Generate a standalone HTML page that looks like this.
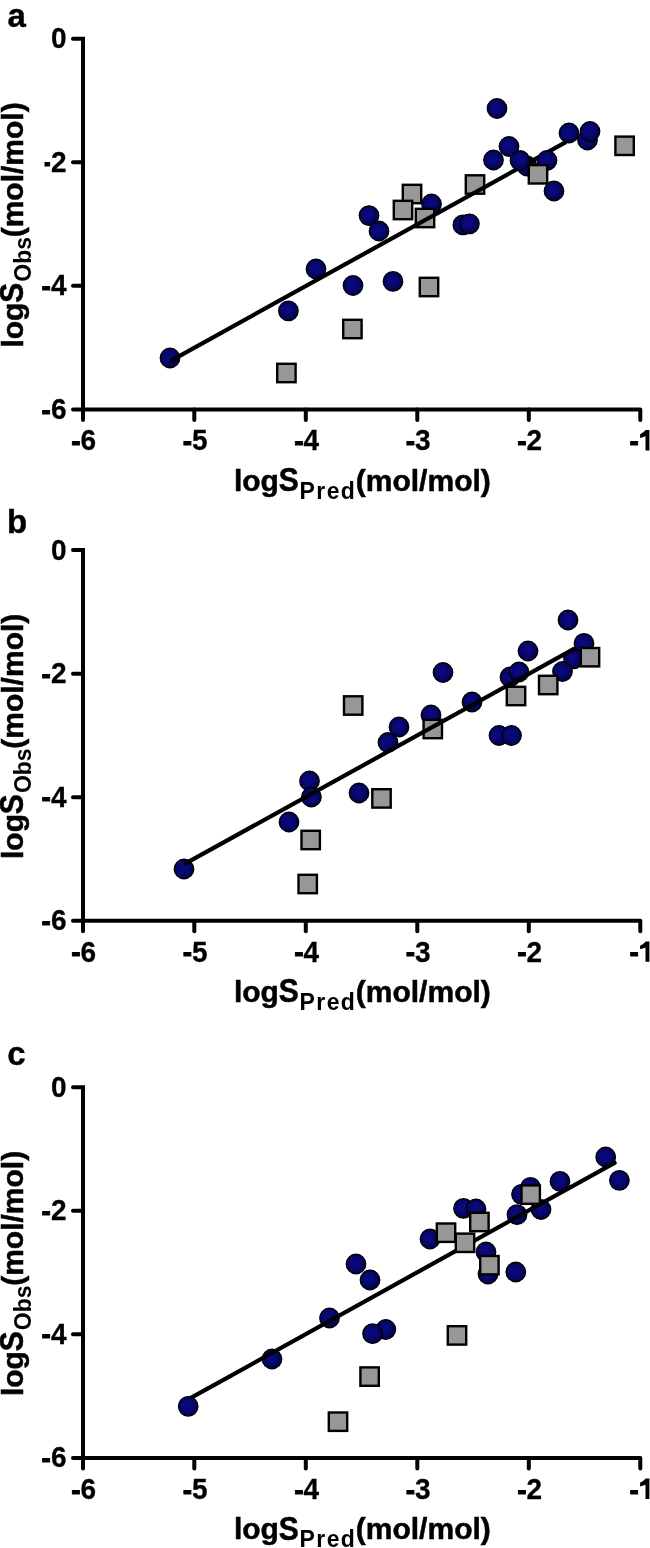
<!DOCTYPE html>
<html><head><meta charset="utf-8"><style>
html,body{margin:0;padding:0;background:#fff;}
svg{display:block;will-change:transform;}
text{font-family:"Liberation Sans",sans-serif;font-weight:bold;fill:#000;}
.tk{font-size:28px;stroke:#000;stroke-width:0.3px;}
.hy{stroke:#000;stroke-width:0.9px;}
.ti{font-size:30px;stroke:#000;stroke-width:0.5px;}
.sub{font-size:23px;}
.sub2{font-size:22.5px;}
.pl{font-size:33px;stroke:#000;stroke-width:0.4px;}
.ax{stroke:#000;stroke-width:4;fill:none;stroke-linecap:round;stroke-linejoin:round;}
.rl{stroke:#000;stroke-width:4.2;stroke-linecap:round;}
.c{fill:url(#cg);stroke:#000;stroke-width:1.3;}
.s{fill:#979797;stroke:#000;stroke-width:2.4;}
</style></head><body>
<svg width="650" height="1548" viewBox="0 0 650 1548">
<defs><radialGradient id="cg" cx="0.45" cy="0.45" r="0.6"><stop offset="0" stop-color="#0a0a80"/><stop offset="0.5" stop-color="#070770"/><stop offset="0.85" stop-color="#03034e"/><stop offset="1" stop-color="#010128"/></radialGradient></defs>
<g transform="translate(0,0.0)">
<path d="M73,38.7 L83,38.7 L83,419.88" class="ax" style="stroke-linejoin:miter"/>
<path d="M83,409.38 L640.3,409.38 L640.3,419.88" class="ax"/>
<line x1="73" y1="162.26" x2="83" y2="162.26" class="ax"/>
<line x1="73" y1="285.82" x2="83" y2="285.82" class="ax"/>
<line x1="73" y1="409.38" x2="83" y2="409.38" class="ax"/>
<line x1="194.3" y1="409.38" x2="194.3" y2="419.88" class="ax"/>
<line x1="305.8" y1="409.38" x2="305.8" y2="419.88" class="ax"/>
<line x1="417.3" y1="409.38" x2="417.3" y2="419.88" class="ax"/>
<line x1="528.8" y1="409.38" x2="528.8" y2="419.88" class="ax"/>
<text transform="translate(66.5,48.2) scale(1,1.065)" class="tk" text-anchor="end">0</text>
<text transform="translate(66.5,171.8) scale(1,1.065)" class="tk" text-anchor="end"><tspan dy="0.6" class="hy">-</tspan><tspan dy="-0.6">2</tspan></text>
<text transform="translate(66.5,295.3) scale(1,1.065)" class="tk" text-anchor="end"><tspan dy="0.6" class="hy">-</tspan><tspan dy="-0.6">4</tspan></text>
<text transform="translate(66.5,418.9) scale(1,1.065)" class="tk" text-anchor="end"><tspan dy="0.6" class="hy">-</tspan><tspan dy="-0.6">6</tspan></text>
<text transform="translate(83.6,450.4) scale(1,1.065)" class="tk" text-anchor="middle"><tspan dy="0.6" class="hy">-</tspan><tspan dy="-0.6">6</tspan></text>
<text transform="translate(195.1,450.4) scale(1,1.065)" class="tk" text-anchor="middle"><tspan dy="0.6" class="hy">-</tspan><tspan dy="-0.6">5</tspan></text>
<text transform="translate(306.6,450.4) scale(1,1.065)" class="tk" text-anchor="middle"><tspan dy="0.6" class="hy">-</tspan><tspan dy="-0.6">4</tspan></text>
<text transform="translate(418.1,450.4) scale(1,1.065)" class="tk" text-anchor="middle"><tspan dy="0.6" class="hy">-</tspan><tspan dy="-0.6">3</tspan></text>
<text transform="translate(529.6,450.4) scale(1,1.065)" class="tk" text-anchor="middle"><tspan dy="0.6" class="hy">-</tspan><tspan dy="-0.6">2</tspan></text>
<text transform="translate(629.55,450.4) scale(1,1.065)" class="tk"><tspan dy="0.6" class="hy">-</tspan></text>
<path d="M645.7,430.08 L649.4,430.08 L649.4,450.38 L645.5,450.38 L645.5,436.18 Q642.6,437.18 640.1,437.88 L640.1,434.28 Q643.6,432.58 645.7,430.08 Z" fill="#000"/>
<g transform="translate(233.9,490.7)"><text x="0" y="0" class="ti">log</text><text transform="translate(44.80,0.30) scale(1,1.11)" class="ti">S</text><text transform="translate(65.70,7.80) scale(1,1.03)" class="sub" letter-spacing="1.4">Pred</text><text x="121.90" y="0" class="ti">(mol/mol)</text></g>
<g transform="translate(23.0,347.6) rotate(-90)"><text x="0" y="0" class="ti">log</text><text transform="translate(44.80,0.30) scale(1,1.11)" class="ti">S</text><text transform="translate(65.90,7.80) scale(1,1.03)" class="sub" letter-spacing="0.0">Obs</text><text x="110.30" y="0" class="ti">(mol/mol)</text></g>
</g>
<rect x="41.5" y="160" width="3" height="8" fill="#fff"/>
<text x="7.5" y="27.3" class="pl">a</text>
<circle cx="170" cy="358" r="9.75" class="c"/>
<circle cx="288.4" cy="310.8" r="9.75" class="c"/>
<circle cx="316" cy="269" r="9.75" class="c"/>
<circle cx="353" cy="285.5" r="9.75" class="c"/>
<circle cx="369" cy="215.6" r="9.75" class="c"/>
<circle cx="379" cy="231" r="9.75" class="c"/>
<circle cx="393" cy="281.4" r="9.75" class="c"/>
<circle cx="431.5" cy="204" r="9.75" class="c"/>
<circle cx="497" cy="108.5" r="9.75" class="c"/>
<circle cx="509" cy="146.5" r="9.75" class="c"/>
<circle cx="493.5" cy="160" r="9.75" class="c"/>
<circle cx="527" cy="166" r="9.75" class="c"/>
<circle cx="554" cy="191" r="9.75" class="c"/>
<circle cx="462.9" cy="224.9" r="9.75" class="c"/>
<circle cx="469.4" cy="223.8" r="9.75" class="c"/>
<rect x="277.2" y="363.8" width="18.4" height="18.4" class="s"/>
<rect x="343.2" y="319.8" width="18.4" height="18.4" class="s"/>
<rect x="419.8" y="277.8" width="18.4" height="18.4" class="s"/>
<rect x="402.8" y="184.8" width="18.4" height="18.4" class="s"/>
<rect x="393.8" y="200.8" width="18.4" height="18.4" class="s"/>
<rect x="415.8" y="208.8" width="18.4" height="18.4" class="s"/>
<rect x="465.8" y="175.3" width="18.4" height="18.4" class="s"/>
<rect x="615.4" y="136.6" width="18.4" height="18.4" class="s"/>
<line x1="171.6" y1="360.3" x2="564.9" y2="142.7" class="rl"/>
<circle cx="520" cy="160.5" r="9.75" class="c"/>
<circle cx="547" cy="160.5" r="9.75" class="c"/>
<circle cx="569" cy="133" r="9.75" class="c"/>
<circle cx="587.5" cy="140" r="9.75" class="c"/>
<circle cx="590" cy="131.5" r="9.75" class="c"/>
<rect x="528.8" y="165.1" width="18.4" height="18.4" class="s"/>
<g transform="translate(0,511.4)">
<path d="M73,38.7 L83,38.7 L83,419.88" class="ax" style="stroke-linejoin:miter"/>
<path d="M83,409.38 L640.3,409.38 L640.3,419.88" class="ax"/>
<line x1="73" y1="162.26" x2="83" y2="162.26" class="ax"/>
<line x1="73" y1="285.82" x2="83" y2="285.82" class="ax"/>
<line x1="73" y1="409.38" x2="83" y2="409.38" class="ax"/>
<line x1="194.3" y1="409.38" x2="194.3" y2="419.88" class="ax"/>
<line x1="305.8" y1="409.38" x2="305.8" y2="419.88" class="ax"/>
<line x1="417.3" y1="409.38" x2="417.3" y2="419.88" class="ax"/>
<line x1="528.8" y1="409.38" x2="528.8" y2="419.88" class="ax"/>
<text transform="translate(66.5,48.2) scale(1,1.065)" class="tk" text-anchor="end">0</text>
<text transform="translate(66.5,171.8) scale(1,1.065)" class="tk" text-anchor="end"><tspan dy="0.6" class="hy">-</tspan><tspan dy="-0.6">2</tspan></text>
<text transform="translate(66.5,295.3) scale(1,1.065)" class="tk" text-anchor="end"><tspan dy="0.6" class="hy">-</tspan><tspan dy="-0.6">4</tspan></text>
<text transform="translate(66.5,418.9) scale(1,1.065)" class="tk" text-anchor="end"><tspan dy="0.6" class="hy">-</tspan><tspan dy="-0.6">6</tspan></text>
<text transform="translate(83.6,450.4) scale(1,1.065)" class="tk" text-anchor="middle"><tspan dy="0.6" class="hy">-</tspan><tspan dy="-0.6">6</tspan></text>
<text transform="translate(195.1,450.4) scale(1,1.065)" class="tk" text-anchor="middle"><tspan dy="0.6" class="hy">-</tspan><tspan dy="-0.6">5</tspan></text>
<text transform="translate(306.6,450.4) scale(1,1.065)" class="tk" text-anchor="middle"><tspan dy="0.6" class="hy">-</tspan><tspan dy="-0.6">4</tspan></text>
<text transform="translate(418.1,450.4) scale(1,1.065)" class="tk" text-anchor="middle"><tspan dy="0.6" class="hy">-</tspan><tspan dy="-0.6">3</tspan></text>
<text transform="translate(529.6,450.4) scale(1,1.065)" class="tk" text-anchor="middle"><tspan dy="0.6" class="hy">-</tspan><tspan dy="-0.6">2</tspan></text>
<text transform="translate(629.55,450.4) scale(1,1.065)" class="tk"><tspan dy="0.6" class="hy">-</tspan></text>
<path d="M645.7,430.08 L649.4,430.08 L649.4,450.38 L645.5,450.38 L645.5,436.18 Q642.6,437.18 640.1,437.88 L640.1,434.28 Q643.6,432.58 645.7,430.08 Z" fill="#000"/>
<g transform="translate(233.9,490.7)"><text x="0" y="0" class="ti">log</text><text transform="translate(44.80,0.30) scale(1,1.11)" class="ti">S</text><text transform="translate(65.70,7.80) scale(1,1.03)" class="sub" letter-spacing="1.4">Pred</text><text x="121.90" y="0" class="ti">(mol/mol)</text></g>
<g transform="translate(23.0,347.6) rotate(-90)"><text x="0" y="0" class="ti">log</text><text transform="translate(44.80,0.30) scale(1,1.11)" class="ti">S</text><text transform="translate(65.90,7.80) scale(1,1.03)" class="sub" letter-spacing="0.0">Obs</text><text x="110.30" y="0" class="ti">(mol/mol)</text></g>
</g>
<text x="7.0" y="532.9" class="pl">b</text>
<circle cx="184" cy="869" r="9.75" class="c"/>
<circle cx="289" cy="822" r="9.75" class="c"/>
<circle cx="309.5" cy="781" r="9.75" class="c"/>
<circle cx="311.4" cy="797" r="9.75" class="c"/>
<circle cx="359" cy="793" r="9.75" class="c"/>
<circle cx="399" cy="727" r="9.75" class="c"/>
<circle cx="388" cy="742.5" r="9.75" class="c"/>
<circle cx="431" cy="715" r="9.75" class="c"/>
<circle cx="443" cy="672.5" r="9.75" class="c"/>
<circle cx="472" cy="702" r="9.75" class="c"/>
<circle cx="499" cy="735.5" r="9.75" class="c"/>
<circle cx="511.5" cy="735.5" r="9.75" class="c"/>
<circle cx="510" cy="677" r="9.75" class="c"/>
<circle cx="519" cy="672" r="9.75" class="c"/>
<circle cx="528" cy="651" r="9.75" class="c"/>
<circle cx="568" cy="620" r="9.75" class="c"/>
<circle cx="584" cy="643.4" r="9.75" class="c"/>
<circle cx="573.5" cy="658.8" r="9.75" class="c"/>
<circle cx="562.5" cy="671.5" r="9.75" class="c"/>
<rect x="372.3" y="789.2" width="18.4" height="18.4" class="s"/>
<rect x="301.5" y="830.8" width="18.4" height="18.4" class="s"/>
<rect x="298.5" y="874.8" width="18.4" height="18.4" class="s"/>
<rect x="344.0" y="696.3" width="18.4" height="18.4" class="s"/>
<rect x="423.6" y="719.8" width="18.4" height="18.4" class="s"/>
<rect x="506.8" y="686.8" width="18.4" height="18.4" class="s"/>
<rect x="539.0" y="675.8" width="18.4" height="18.4" class="s"/>
<rect x="580.8" y="648.0" width="18.4" height="18.4" class="s"/>
<line x1="185.6" y1="863.4" x2="573.9" y2="648.9" class="rl"/>
<g transform="translate(0,1048.5)">
<path d="M73,38.7 L83,38.7 L83,419.88" class="ax" style="stroke-linejoin:miter"/>
<path d="M83,409.38 L640.3,409.38 L640.3,419.88" class="ax"/>
<line x1="73" y1="162.26" x2="83" y2="162.26" class="ax"/>
<line x1="73" y1="285.82" x2="83" y2="285.82" class="ax"/>
<line x1="73" y1="409.38" x2="83" y2="409.38" class="ax"/>
<line x1="194.3" y1="409.38" x2="194.3" y2="419.88" class="ax"/>
<line x1="305.8" y1="409.38" x2="305.8" y2="419.88" class="ax"/>
<line x1="417.3" y1="409.38" x2="417.3" y2="419.88" class="ax"/>
<line x1="528.8" y1="409.38" x2="528.8" y2="419.88" class="ax"/>
<text transform="translate(66.5,48.2) scale(1,1.065)" class="tk" text-anchor="end">0</text>
<text transform="translate(66.5,171.8) scale(1,1.065)" class="tk" text-anchor="end"><tspan dy="0.6" class="hy">-</tspan><tspan dy="-0.6">2</tspan></text>
<text transform="translate(66.5,295.3) scale(1,1.065)" class="tk" text-anchor="end"><tspan dy="0.6" class="hy">-</tspan><tspan dy="-0.6">4</tspan></text>
<text transform="translate(66.5,418.9) scale(1,1.065)" class="tk" text-anchor="end"><tspan dy="0.6" class="hy">-</tspan><tspan dy="-0.6">6</tspan></text>
<text transform="translate(83.6,450.4) scale(1,1.065)" class="tk" text-anchor="middle"><tspan dy="0.6" class="hy">-</tspan><tspan dy="-0.6">6</tspan></text>
<text transform="translate(195.1,450.4) scale(1,1.065)" class="tk" text-anchor="middle"><tspan dy="0.6" class="hy">-</tspan><tspan dy="-0.6">5</tspan></text>
<text transform="translate(306.6,450.4) scale(1,1.065)" class="tk" text-anchor="middle"><tspan dy="0.6" class="hy">-</tspan><tspan dy="-0.6">4</tspan></text>
<text transform="translate(418.1,450.4) scale(1,1.065)" class="tk" text-anchor="middle"><tspan dy="0.6" class="hy">-</tspan><tspan dy="-0.6">3</tspan></text>
<text transform="translate(529.6,450.4) scale(1,1.065)" class="tk" text-anchor="middle"><tspan dy="0.6" class="hy">-</tspan><tspan dy="-0.6">2</tspan></text>
<text transform="translate(629.55,450.4) scale(1,1.065)" class="tk"><tspan dy="0.6" class="hy">-</tspan></text>
<path d="M645.7,430.08 L649.4,430.08 L649.4,450.38 L645.5,450.38 L645.5,436.18 Q642.6,437.18 640.1,437.88 L640.1,434.28 Q643.6,432.58 645.7,430.08 Z" fill="#000"/>
<g transform="translate(233.9,490.7)"><text x="0" y="0" class="ti">log</text><text transform="translate(44.80,0.30) scale(1,1.11)" class="ti">S</text><text transform="translate(65.70,7.80) scale(1,1.03)" class="sub" letter-spacing="1.4">Pred</text><text x="121.90" y="0" class="ti">(mol/mol)</text></g>
<g transform="translate(23.0,347.6) rotate(-90)"><text x="0" y="0" class="ti">log</text><text transform="translate(44.80,0.30) scale(1,1.11)" class="ti">S</text><text transform="translate(65.90,7.80) scale(1,1.03)" class="sub" letter-spacing="0.0">Obs</text><text x="110.30" y="0" class="ti">(mol/mol)</text></g>
</g>
<text x="7.3" y="1065.2" class="pl">c</text>
<circle cx="272" cy="1359" r="9.75" class="c"/>
<circle cx="329.5" cy="1318" r="9.75" class="c"/>
<circle cx="356" cy="1264" r="9.75" class="c"/>
<circle cx="370" cy="1280" r="9.75" class="c"/>
<circle cx="385.8" cy="1329.5" r="9.75" class="c"/>
<circle cx="372.6" cy="1333.7" r="9.75" class="c"/>
<circle cx="430" cy="1239" r="9.75" class="c"/>
<circle cx="463.5" cy="1208.4" r="9.75" class="c"/>
<circle cx="476" cy="1209" r="9.75" class="c"/>
<circle cx="486" cy="1252" r="9.75" class="c"/>
<circle cx="488" cy="1274" r="9.75" class="c"/>
<circle cx="560" cy="1181.4" r="9.75" class="c"/>
<circle cx="530.5" cy="1187.4" r="9.75" class="c"/>
<circle cx="521.5" cy="1194.3" r="9.75" class="c"/>
<circle cx="517" cy="1214.7" r="9.75" class="c"/>
<circle cx="541" cy="1209.5" r="9.75" class="c"/>
<circle cx="605.7" cy="1157" r="9.75" class="c"/>
<circle cx="619.4" cy="1180.3" r="9.75" class="c"/>
<circle cx="515.8" cy="1272" r="9.75" class="c"/>
<line x1="190.4" y1="1398.2" x2="614.6" y2="1162.8" class="rl"/>
<circle cx="188.2" cy="1406.3" r="9.75" class="c"/>
<rect x="360.4" y="1367.4" width="18.4" height="18.4" class="s"/>
<rect x="436.8" y="1223.5" width="18.4" height="18.4" class="s"/>
<rect x="455.8" y="1233.6" width="18.4" height="18.4" class="s"/>
<rect x="470.2" y="1212.8" width="18.4" height="18.4" class="s"/>
<rect x="480.2" y="1256.0" width="18.4" height="18.4" class="s"/>
<rect x="521.5" y="1185.4" width="18.4" height="18.4" class="s"/>
<rect x="328.8" y="1412.5" width="18.4" height="18.4" class="s"/>
<rect x="447.8" y="1326.2" width="18.4" height="18.4" class="s"/>
</svg>
</body></html>
